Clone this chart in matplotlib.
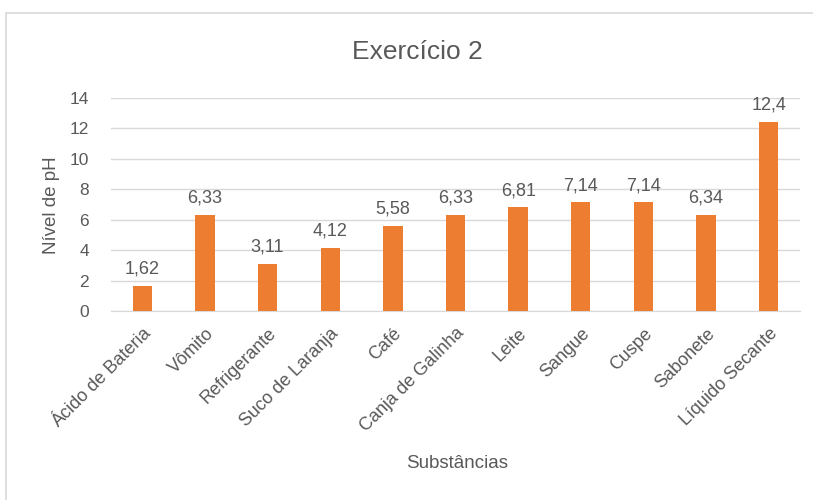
import matplotlib.pyplot as plt
from matplotlib.patches import Rectangle

substancias = ['Ácido de Bateria', 'Vômito', 'Refrigerante', 'Suco de Laranja', 'Café',
               'Canja de Galinha', 'Leite', 'Sangue', 'Cuspe', 'Sabonete', 'Líquido Secante']
ph = [1.62, 6.33, 3.11, 4.12, 5.58, 6.33, 6.81, 7.14, 7.14, 6.34, 12.4]
rotulos = ['1,62', '6,33', '3,11', '4,12', '5,58', '6,33', '6,81', '7,14', '7,14', '6,34', '12,4']
yticks = [0, 2, 4, 6, 8, 10, 12, 14]

plt.rcParams['font.family'] = ['Liberation Sans', 'DejaVu Sans']
cinza = '#595959'

fig = plt.figure(figsize=(8.13, 5), dpi=100)
fig.patches.append(Rectangle((6 / 813, -0.5), 2, (500 - 13) / 500 + 0.5, transform=fig.transFigure,
                             fill=False, edgecolor='#d9d9d9', linewidth=1.2, clip_on=False))
ax = fig.add_axes([111 / 813, (500 - 311) / 500, (800 - 111) / 813, 213 / 500])

x = range(len(substancias))
ax.bar(x, ph, width=0.31, color='#ED7D31', zorder=3)
for i, (v, t) in enumerate(zip(ph, rotulos)):
    ax.text(i, v + 0.55, t, ha='center', va='bottom', fontsize=13, color=cinza)

ax.set_xlim(-0.5, len(substancias) - 0.5)
ax.set_ylim(0, 14)
ax.set_yticks(yticks)
ax.set_xticks(list(x))
ax.set_xticklabels(substancias, rotation=45, ha='right', rotation_mode='anchor', fontsize=13, color=cinza)
ax.tick_params(axis='y', labelsize=12.5, labelcolor=cinza, length=0, pad=16)
ax.tick_params(axis='x', length=0, pad=10)
ax.grid(axis='y', color='#d9d9d9', linewidth=1, zorder=0)
for s in ['top', 'right', 'left']:
    ax.spines[s].set_visible(False)
ax.spines['bottom'].set_color('#d9d9d9')

fig.text(417 / 813, 1 - 52 / 500, 'Exercício 2', ha='center', va='center', fontsize=19, color=cinza)
fig.text(52 / 813, 1 - 205 / 500, 'Nível de pH', ha='center', va='center', rotation=90, fontsize=13.5, color=cinza)
fig.text(457 / 813, 1 - 463 / 500, 'Substâncias', ha='center', va='center', fontsize=13.5, color=cinza)

fig.savefig('out.png', dpi=100)
